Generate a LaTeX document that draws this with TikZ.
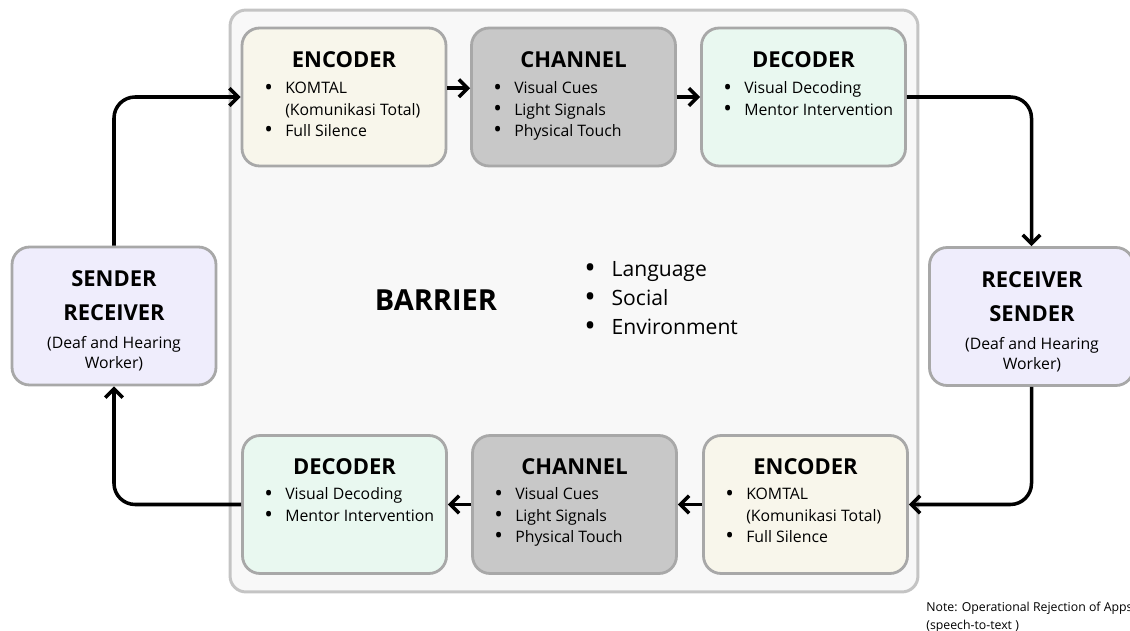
\documentclass[tikz,border=0pt]{standalone}
\usepackage{fontspec}
\setmainfont{Open Sans}
\usepackage{tikz}
\usetikzlibrary{arrows.meta,positioning}
\definecolor{encfill}{HTML}{F8F6EB}
\definecolor{chanfill}{HTML}{C8C8C8}
\definecolor{decfill}{HTML}{E9F8F0}
\definecolor{agentfill}{HTML}{EFEDFC}
\definecolor{cardline}{HTML}{A8A8A8}
\definecolor{barfill}{HTML}{F8F8F8}
\definecolor{barline}{HTML}{C4C4C4}
\newcommand{\bul}{\raisebox{-0.12ex}{\scalebox{1.45}{\textbullet}}}

\begin{document}
\begin{tikzpicture}[x=0.02cm,y=-0.02cm,>={Straight Barb[length=5pt,width=10pt]},
  card/.style={draw=cardline,line width=1.6pt,rounded corners=10pt,minimum width=4.08cm,minimum height=2.76cm},
  title/.style={font=\fontsize{12.5}{19}\selectfont\bfseries,anchor=base,inner sep=0pt},
  items/.style={font=\fontsize{9}{12}\selectfont,anchor=base west,inner sep=0pt},
  sub/.style={font=\fontsize{9}{11}\selectfont,anchor=base,inner sep=0pt},
  flow/.style={->,line width=2pt,rounded corners=12pt}]
\useasboundingbox (0,0) rectangle (1130,631);
\node[draw=barline,fill=barfill,line width=1.7pt,rounded corners=9pt,minimum width=13.76cm,minimum height=11.64cm] (barrier) at (574,301) {};

% top row
\node[card,fill=encfill] (enc1) at (344,97) {};
\node[card,fill=chanfill] (chan1) at (573.5,97) {};
\node[card,fill=decfill] (dec1) at (803.5,97) {};
% bottom row
\node[card,fill=decfill] (dec2) at (344.5,504.5) {};
\node[card,fill=chanfill] (chan2) at (574.5,504.5) {};
\node[card,fill=encfill] (enc2) at (805.5,504.5) {};
% agents
\node[card,fill=agentfill] (sr) at (114,316) {};
\node[card,fill=agentfill] (rs) at (1031.5,316.5) {};

\node[title] (enc1t) at (344,68) {ENCODER};
\node[items] (enc1i) at (264,94) {\begin{tabular}[t]{@{}c@{\hspace{7pt}}l@{}}\bul & KOMTAL\\ & (Komunikasi Total)\\ \bul & Full Silence\end{tabular}};
\node[title] (chan1t) at (573.5,68) {CHANNEL};
\node[items] (chan1i) at (493,94) {\begin{tabular}[t]{@{}c@{\hspace{7pt}}l@{}}\bul & Visual Cues\\ \bul & Light Signals\\ \bul & Physical Touch\end{tabular}};
\node[title] (dec1t) at (803.5,68) {DECODER};
\node[items] (dec1i) at (723,94) {\begin{tabular}[t]{@{}c@{\hspace{7pt}}l@{}}\bul & Visual Decoding\\ \bul & Mentor Intervention\end{tabular}};

\node[title] (dec2t) at (344.5,475) {DECODER};
\node[items] (dec2i) at (264,500) {\begin{tabular}[t]{@{}c@{\hspace{7pt}}l@{}}\bul & Visual Decoding\\ \bul & Mentor Intervention\end{tabular}};
\node[title] (chan2t) at (574.5,475) {CHANNEL};
\node[items] (chan2i) at (494,500) {\begin{tabular}[t]{@{}c@{\hspace{7pt}}l@{}}\bul & Visual Cues\\ \bul & Light Signals\\ \bul & Physical Touch\end{tabular}};
\node[title] (enc2t) at (805.5,475) {ENCODER};
\node[items] (enc2i) at (725,500) {\begin{tabular}[t]{@{}c@{\hspace{7pt}}l@{}}\bul & KOMTAL\\ & (Komunikasi Total)\\ \bul & Full Silence\end{tabular}};

\node[title] (srt) at (114,287) {\begin{tabular}[t]{@{}c@{}}SENDER\\RECEIVER\end{tabular}};
\node[sub] (srs) at (114,349) {\begin{tabular}[t]{@{}c@{}}(Deaf and Hearing\\Worker)\end{tabular}};
\node[title] (rst) at (1032,288) {\begin{tabular}[t]{@{}c@{}}RECEIVER\\SENDER\end{tabular}};
\node[sub] (rss) at (1032,350) {\begin{tabular}[t]{@{}c@{}}(Deaf and Hearing\\Worker)\end{tabular}};

\node[font=\fontsize{16.5}{19}\selectfont\bfseries,anchor=base,inner sep=0pt] (bart) at (436,311) {BARRIER};
\node[font=\fontsize{12}{16.5}\selectfont,anchor=base west,inner sep=0pt] (bari) at (584,277) {\begin{tabular}[t]{@{}c@{\hspace{9pt}}l@{}}\bul & Language\\ \bul & Social\\ \bul & Environment\end{tabular}};

\node[font=\fontsize{7}{9.7}\selectfont,anchor=base west,inner sep=0pt] (note) at (926,612) {\begin{tabular}[t]{@{}l@{}}Note: Operational Rejection of Apps\\(speech-to-text )\end{tabular}};

\draw[flow] (sr.north) |- (enc1.west);
\draw[flow] ([yshift=5pt]enc1.east) -- ([yshift=5pt]chan1.west);
\draw[flow] (chan1.east) -- (dec1.west);
\draw[flow] (dec1.east) -| (rs.north);
\draw[flow] (rs.south) |- (enc2.east);
\draw[flow] (enc2.west) -- (chan2.east);
\draw[flow] (chan2.west) -- (dec2.east);
\draw[flow] (dec2.west) -| (sr.south);
\end{tikzpicture}
\end{document}
